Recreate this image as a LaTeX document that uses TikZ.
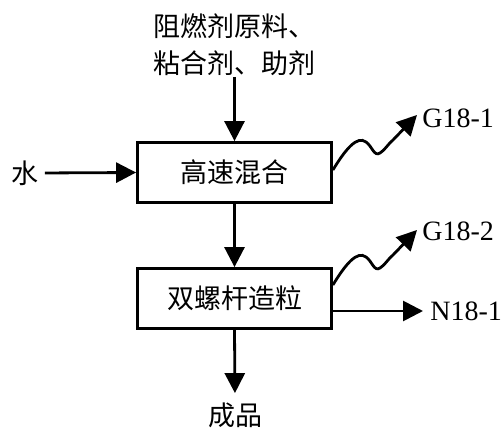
\documentclass[tikz,border=0pt]{standalone}
\usepackage{fontspec}
\setmainfont{Liberation Serif}
\newfontfamily\cjk{Noto Sans CJK SC}
\usetikzlibrary{arrows.meta}
\begin{document}
\begin{tikzpicture}[x=1pt,y=-1pt,line width=2.8pt,
  arr/.style={-{Triangle[length=20pt,width=20pt]}},
  procbox/.style={draw,minimum width=194pt,minimum height=60pt,inner sep=0pt,font=\cjk\fontsize{27}{32}\selectfont},
  cjklabel/.style={font=\cjk\fontsize{27}{37}\selectfont,inner sep=0pt},
  codelabel/.style={font=\fontsize{28}{30}\selectfont,inner sep=0pt,anchor=west}]
\useasboundingbox (0,0) rectangle (502,430);
\node[procbox] (mix) at (234.5,172.5) {高速混合};
\node[procbox] (gran) at (234.5,298.5) {双螺杆造粒};
\node[cjklabel,align=left] (raw) at (234.5,44.5) {阻燃剂原料、\\粘合剂、助剂};
\node[cjklabel] (water) at (25,173) {水};
\node[cjklabel] (prod) at (235,415) {成品};
\node[codelabel] (g1) at (421,118) {G18-1};
\node[codelabel] (g2) at (421,231) {G18-2};
\node[codelabel] (n1) at (429,311) {N18-1};
\draw[arr] (raw.south) -- (mix.north);
\draw[arr,shorten <=5pt] (water.east) -- (mix.west);
\draw[arr] (mix.south) -- (gran.north);
\draw[arr,shorten >=8pt] (gran.south) -- (prod.north);
\draw[arr,shorten >=6pt] ([yshift=-12.5pt]gran.east) -- ([yshift=-12.5pt]gran.east -| n1.west);
\draw[arr] ([yshift=2.5pt]mix.east) .. controls (345,150) and (357,135) .. (366,142)
  .. controls (372,146) and (374,157) .. (380,153)
  .. controls (385,150) and (388,144) .. (393,140) -- ([xshift=-4pt,yshift=3pt]g1.west);
\draw[arr] ([yshift=13.5pt]gran.east) .. controls (345,265) and (357,250) .. (366,257)
  .. controls (372,261) and (374,272) .. (380,268)
  .. controls (385,265) and (388,259) .. (393,255) -- ([xshift=-4pt,yshift=1pt]g2.west);
\end{tikzpicture}
\end{document}
